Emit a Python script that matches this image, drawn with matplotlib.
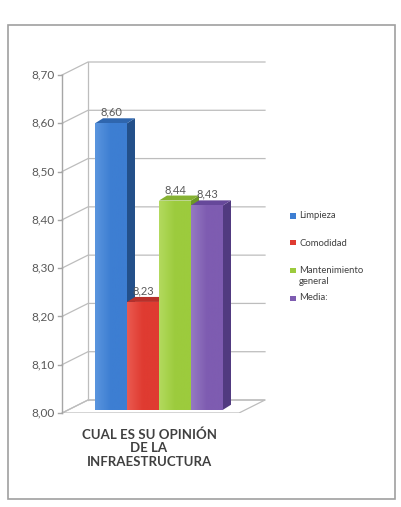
import numpy as np
import matplotlib.pyplot as plt
from matplotlib.patches import Polygon, Rectangle
from matplotlib.colors import LinearSegmentedColormap

# datos del grafico
series = ['Limpieza', 'Comodidad', 'Mantenimiento\ngeneral', 'Media:']
valores = [8.60, 8.23, 8.44, 8.43]
categoria = 'CUAL ES SU OPINIÓN\nDE LA\nINFRAESTRUCTURA'
yticks = [8.00, 8.10, 8.20, 8.30, 8.40, 8.50, 8.60, 8.70]

frente = ['#3D7ED2', '#DF3B31', '#9CCB3D', '#7E5CB1']
claro = ['#5A95DE', '#EA5A50', '#B3DA5E', '#9579C2']
lado = ['#23508A', '#9C2820', '#6C9826', '#513A80']
techo = ['#2F66AE', '#B8302A', '#86B232', '#66489A']

W, H = 401, 507
fig = plt.figure(figsize=(W / 100, H / 100), dpi=100)
fig.patch.set_facecolor('white')

# marco exterior
fig.patches.append(Rectangle((8 / W, 1 - 499 / H), 387 / W, 474 / H, transform=fig.transFigure,
                             fill=False, edgecolor='#A0A0A0', lw=1.2))

ppu = 338 / 0.7          # pixeles por unidad en y
unit = 32                # pixeles por categoria en x
dy = 13 / ppu
dx = 26 / unit
ymin, ymax = 8.0, 8.7
xmin = -0.5 - 33 / unit
xmax = xmin + 203 / unit

ax = fig.add_axes([62 / W, 1 - 413 / H, 203 / W, 351 / H])
ax.set_xlim(xmin, xmax)
ax.set_ylim(ymin, ymax + dy)
ax.axis('off')

grid = '#BDBDBD'
# pared del fondo y lineas de cuadricula
for v in yticks:
    ax.plot([xmin, xmin + dx, xmax], [v, v + dy, v + dy], color=grid, lw=0.9, clip_on=False)
ax.plot([xmin + dx, xmin + dx], [ymin + dy, ymax + dy], color=grid, lw=0.9)
# piso
piso = [(xmin, ymin), (xmax - dx, ymin), (xmax, ymin + dy), (xmin + dx, ymin + dy)]
ax.add_patch(Polygon(piso, closed=True, facecolor='white', edgecolor=grid, lw=0.9))
# eje vertical
ax.plot([xmin, xmin], [ymin, ymax], color='#A6A6A6', lw=1, clip_on=False)
for v in yticks:
    ax.plot([xmin - 0.12, xmin], [v, v], color='#A6A6A6', lw=1, clip_on=False)
    ax.text(xmin - 0.22, v, f'{v:.2f}'.replace('.', ','), ha='right', va='center',
            fontsize=8.5, color='#595959', family='Lato')

# barras 3D
bw = 1.0
bdx = 8 / unit
bdy = 5 / ppu
base = ymin + 0.25 * dy
for i, v in enumerate(valores):
    x0, x1 = i - bw / 2, i + bw / 2
    side = [(x1, base), (x1 + bdx, base + bdy), (x1 + bdx, v + bdy), (x1, v)]
    top = [(x0, v), (x1, v), (x1 + bdx, v + bdy), (x0 + bdx, v + bdy)]
    ax.add_patch(Polygon(side, closed=True, facecolor=lado[i], edgecolor='none', zorder=3 + i))
    ax.add_patch(Polygon(top, closed=True, facecolor=techo[i], edgecolor='none', zorder=3 + i))
    cmap = LinearSegmentedColormap.from_list('g', [claro[i], frente[i], frente[i]])
    rect = Rectangle((x0, base), bw, v - base, facecolor=frente[i], edgecolor='none', zorder=3 + i)
    ax.add_patch(rect)
    im = ax.imshow(np.linspace(0, 1, 50).reshape(1, -1), cmap=cmap, aspect='auto',
                   extent=[x0, x1, base, v], zorder=3.5 + i)
    im.set_clip_path(rect)
    ax.text(i, v + bdy + 0.001, f'{v:.2f}'.replace('.', ','), ha='center', va='bottom',
            fontsize=8, color='#595959', family='Lato', zorder=10)
ax.set_xlim(xmin, xmax)
ax.set_ylim(ymin, ymax + dy)

# etiqueta de categoria
fig.text(149 / W, 1 - 448 / H, categoria, ha='center', va='center', fontsize=9.5,
         fontweight='bold', color='#404040', family='Lato', linespacing=1.15)

# leyenda
ley_y = [216, 243, 276, 298]
for i, s in enumerate(series):
    y = ley_y[i]
    off = -6 if '\n' in s else 0
    fig.patches.append(Rectangle((290 / W, 1 - (y + off + 2.5) / H), 6 / W, 5 / H,
                                 transform=fig.transFigure, facecolor=frente[i], edgecolor='none'))
    fig.text(299 / W, 1 - y / H, s, ha='left', va='center', fontsize=6.8,
             color='#404040', family='Lato', linespacing=1.3)

fig.savefig('out.png', dpi=100)
